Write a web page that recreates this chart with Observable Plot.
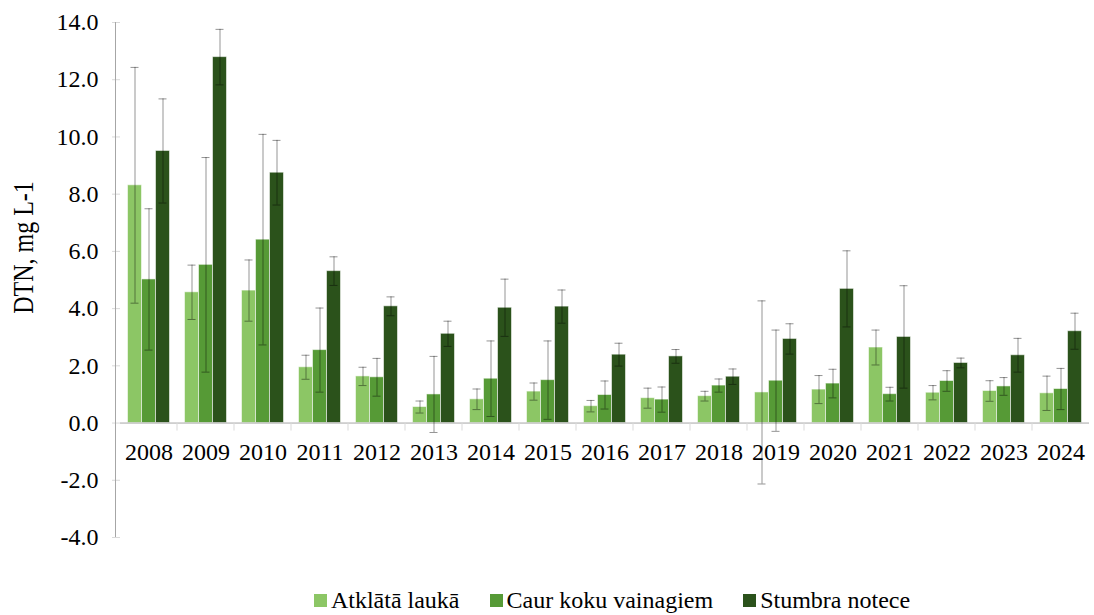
<!DOCTYPE html>
<html><head><meta charset="utf-8">
<script src="https://cdn.jsdelivr.net/npm/d3@7"></script>
<script src="https://cdn.jsdelivr.net/npm/@observablehq/plot@0.6"></script>
<style>
body{margin:0;background:#fff;font-family:'Liberation Serif';}
#chart svg{display:block;}
#legend{display:flex;justify-content:center;align-items:center;height:30px;padding-top:5px;padding-left:130px;font-size:24px;line-height:26px;color:#000;font-family:'Liberation Serif';}
.item{display:flex;align-items:center;margin:0 15px;}
.sw{width:13px;height:13px;margin-right:4px;}
svg text{font-family:'Liberation Serif' !important;}
</style></head><body>
<div id="chart"></div>
<div id="legend"></div>
<script>
const years = ["2008","2009","2010","2011","2012","2013","2014","2015","2016","2017","2018","2019","2020","2021","2022","2023","2024"];
const series = ["Atklātā laukā","Caur koku vainagiem","Stumbra notece"];
const colors = ["#8cc665","#569a36","#2b521b"];
const atklataLauka = [8.31,4.57,4.63,1.95,1.63,0.56,0.83,1.10,0.59,0.87,0.94,1.07,1.17,2.64,1.06,1.12,1.04];
const atklataErr   = [4.12,0.95,1.07,0.42,0.32,0.21,0.36,0.30,0.20,0.35,0.17,3.20,0.49,0.61,0.25,0.36,0.60];
const caurKoku     = [5.02,5.53,6.41,2.55,1.60,1.00,1.55,1.50,0.98,0.82,1.31,1.48,1.38,1.01,1.47,1.28,1.19];
const caurErr      = [2.47,3.75,3.68,1.47,0.66,1.33,1.32,1.37,0.49,0.44,0.23,1.77,0.50,0.24,0.36,0.31,0.72];
const stumbra      = [9.51,12.79,8.75,5.31,4.08,3.12,4.03,4.07,2.39,2.33,1.62,2.94,4.69,3.01,2.10,2.37,3.21];
const stumbraErr   = [1.82,0.97,1.13,0.50,0.33,0.44,1.00,0.58,0.40,0.24,0.27,0.53,1.33,1.79,0.17,0.59,0.63];
const yTicks = [-4,-2,0,2,4,6,8,10,12,14];
const yLabel = "DTN, mg L-1";

const valueSets = [atklataLauka, caurKoku, stumbra];
const errSets = [atklataErr, caurErr, stumbraErr];
const data = [];
years.forEach((yr, i) => series.forEach((s, j) => {
  data.push({year: yr, series: s, value: valueSets[j][i], err: errSets[j][i]});
}));

const FONT = "Liberation Serif";
const W = 1094, H = 580;
const chart = Plot.plot({
  width: W, height: H,
  marginLeft: 115.5, marginRight: 0, marginTop: 22, marginBottom: 43,
  style: {fontFamily: FONT, fontSize: "24px", background: "white", color: "black"},
  fx: {domain: years, padding: 0, axis: null},
  x: {domain: series, paddingInner: 0, paddingOuter: 0.46, axis: null},
  y: {domain: [-4, 14]},
  color: {domain: series, range: colors},
  marks: [
    Plot.axisY({ticks: yTicks, tickFormat: d => d.toFixed(1), tickSize: 8, tickPadding: 14, stroke: "#d9d9d9", fill: "black", fontSize: 24, label: null}),
    Plot.barY(data, {fx: "year", x: "series", y: "value", fill: "series", stroke: "#ffffff", strokeOpacity: 0.55, strokeWidth: 1}),
    Plot.ruleY([0], {stroke: "#a6a6a6", strokeWidth: 1}),
    Plot.ruleX(data, {fx: "year", x: "series", y1: d => d.value - d.err, y2: d => d.value + d.err, stroke: "#000", strokeOpacity: 0.42, strokeWidth: 1}),
    Plot.tickY(data, {fx: "year", x: "series", y: d => d.value + d.err, insetLeft: 3, insetRight: 3, stroke: "#000", strokeOpacity: 0.42}),
    Plot.tickY(data, {fx: "year", x: "series", y: d => d.value - d.err, insetLeft: 3, insetRight: 3, stroke: "#000", strokeOpacity: 0.42}),
    Plot.text(years, {fx: d => d, y: d => 0, text: d => d, dy: 29.5, lineAnchor: "middle", fill: "black", fontSize: 24, ariaLabel: "year-label"})
  ]
});
document.getElementById("chart").appendChild(chart);

const ys = chart.scale("y"), fxs = chart.scale("fx");
const svg = d3.select(chart);
const g = svg.append("g");
years.slice(1).forEach(yr => {
  const x = fxs.apply(yr);
  g.append("line").attr("x1", x).attr("x2", x).attr("y1", ys.apply(0)).attr("y2", ys.apply(0) + 8).attr("stroke", "#d9d9d9");
});
g.append("line").attr("x1", 115.5).attr("x2", 115.5).attr("y1", ys.apply(14)).attr("y2", ys.apply(-4)).attr("stroke", "#a6a6a6");
svg.append("text").attr("transform", "translate(33,247.5) rotate(-90) scale(1,1.2)").attr("text-anchor", "middle")
  .attr("font-size", 24).attr("fill", "black").text(yLabel);
svg.selectAll("text").attr("font-family", FONT);

svg.selectAll('g[aria-label="year-label"] text').each(function() {
  const t = d3.select(this);
  const tr = t.attr("transform");
  if (tr) t.attr("transform", tr + " scale(1,1.2)");
  else {
    const x = +t.attr("x") || 0, y = +t.attr("y") || 0;
    t.attr("x", null).attr("y", null).attr("transform", `translate(${x},${y}) scale(1,1.2)`);
  }
});

const leg = d3.select("#legend");
series.forEach((s, i) => {
  const it = leg.append("div").attr("class", "item");
  it.append("div").attr("class", "sw").style("background", colors[i]);
  it.append("span").text(s);
});
</script>
</body></html>
